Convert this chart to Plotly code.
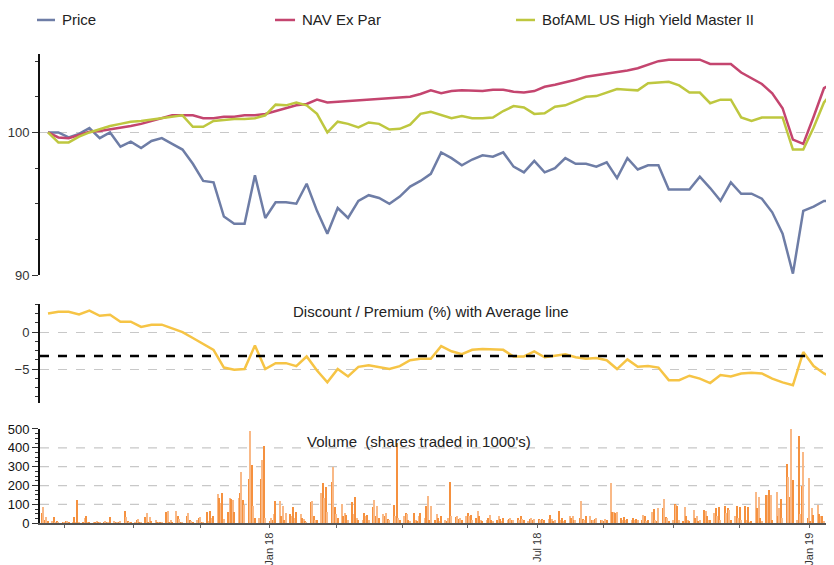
import pandas as pd
import plotly.graph_objects as go

# ---------------- data ----------------
week_dates = list(pd.date_range('2017-08-04', periods=76, freq='7D')) + [pd.Timestamp('2019-01-16')]

price = [100.0, 100.0, 99.65, 99.9, 100.3, 99.6, 100.0, 99.0, 99.35, 98.9,
         99.4, 99.6, 99.2, 98.8, 97.8, 96.6, 96.5, 94.1, 93.6, 93.6,
         97.0, 94.0, 95.1, 95.1, 95.0, 96.4, 94.5, 92.9, 94.7, 94.0,
         95.2, 95.6, 95.4, 95.0, 95.5, 96.2, 96.6, 97.1, 98.6, 98.2,
         97.7, 98.1, 98.4, 98.3, 98.6, 97.6, 97.2, 98.0, 97.2, 97.5,
         98.2, 97.8, 97.8, 97.6, 97.9, 96.8, 98.2, 97.4, 97.7, 97.7,
         96.0, 96.0, 96.0, 96.9, 96.1, 95.2, 96.5, 95.7, 95.7, 95.35,
         94.4, 92.9, 90.1, 94.5, 94.8, 95.2, 95.2]

nav = [100.0, 99.65, 99.6, 99.8, 100.05, 100.1, 100.2, 100.35, 100.45, 100.6,
       100.8, 101.0, 101.2, 101.2, 101.2, 101.0, 101.0, 101.1, 101.1, 101.2,
       101.2, 101.3, 101.5, 101.7, 101.9, 102.0, 102.3, 102.1, 102.15, 102.2,
       102.2, 102.3, 102.35, 102.4, 102.4, 102.5, 102.7, 102.95, 102.75, 102.9,
       102.95, 102.9, 102.9, 103.0, 103.0, 102.85, 102.8, 102.9, 103.2, 103.35,
       103.5, 103.7, 103.9, 104.0, 104.1, 104.25, 104.35, 104.5, 104.75, 105.0,
       105.1, 105.1, 105.1, 105.1, 104.8, 104.8, 104.8, 104.2, 103.8, 103.4,
       102.75, 101.7, 99.5, 99.2, 101.1, 103.1, 103.4]

bench = [100.0, 99.3, 99.3, 99.7, 100.0, 100.25, 100.45, 100.6, 100.75, 100.8,
         100.9, 101.05, 101.1, 101.2, 100.4, 100.4, 100.8, 100.9, 100.95, 100.95,
         101.0, 101.2, 101.95, 101.9, 102.1, 101.9, 101.3, 100.0, 100.75, 100.6,
         100.35, 100.7, 100.6, 100.2, 100.25, 100.55, 101.3, 101.45, 101.2, 101.0,
         101.15, 101.0, 101.0, 101.05, 101.5, 101.85, 101.75, 101.3, 101.35, 101.8,
         101.9, 102.2, 102.5, 102.55, 102.8, 103.05, 103.0, 102.95, 103.45, 103.5,
         103.55, 103.3, 102.8, 102.8, 102.05, 102.3, 102.3, 101.05, 100.8, 101.05,
         101.05, 101.05, 98.8, 98.8, 100.35, 102.1, 102.75]

discount = [2.5, 2.75, 2.75, 2.4, 2.9, 2.2, 2.35, 1.4, 1.4, 0.7,
            1.0, 1.0, 0.5, 0.0, -0.8, -1.6, -2.4, -4.8, -5.1, -5.0,
            -1.8, -5.0, -4.2, -4.2, -4.6, -3.3, -5.2, -6.8, -5.0, -6.0,
            -4.7, -4.5, -4.7, -5.0, -4.6, -3.8, -3.6, -3.6, -1.9, -2.6,
            -3.0, -2.4, -2.3, -2.3, -2.4, -3.3, -3.3, -2.6, -3.4, -3.2,
            -3.0, -3.4, -3.6, -3.5, -3.8, -5.0, -3.7, -4.7, -4.6, -4.8,
            -6.5, -6.5, -5.9, -6.3, -6.9, -5.8, -6.0, -5.6, -5.5, -5.6,
            -6.3, -6.8, -7.2, -2.7, -4.6, -5.6, -6.0]
avg_discount = -3.25

vol_dates = pd.bdate_range('2017-07-31', '2019-01-16')
volume = [
    55, 89, 20, 32, 10,   14, 35, 8, 12, 5,   3, 5, 14, 10, 2,   6, 35, 5, 126, 8,
    3, 27, 41, 5, 3,   4, 2, 14, 3, 6,   8, 14, 4, 3, 35,   14, 3, 4, 5, 10,
    67, 35, 14, 4, 3,   8, 18, 22, 5, 3,   32, 55, 8, 32, 10,   18, 6, 8, 4, 8,
    62, 67, 5, 18, 6,   67, 37, 22, 4, 6,   37, 55, 18, 10, 4,   18, 27, 32, 6, 4,
    62, 14, 65, 30, 41,   156, 133, 108, 163, 22,   62, 133, 130, 125, 60,   133, 160, 271, 125, 97,
    234, 487, 310, 90, 30,   30, 234, 337, 411, 30,   10, 30, 20, 50, 120,   120, 40, 90, 20, 55,
    50, 40, 88, 30, 60,   50, 30, 22, 10, 8,   115, 120, 40, 20, 18,   160, 213, 133, 195, 60,
    217, 298, 88, 50, 30,   100, 40, 55, 45, 20,   115, 50, 140, 30, 20,   20, 55, 40, 45, 15,
    88, 125, 40, 90, 30,   50, 40, 55, 25, 20,   97, 40, 425, 30, 15,   40, 55, 50, 20, 10,
    55, 20, 10, 40, 55,   30, 90, 145, 20, 90,   20, 50, 30, 10, 40,   20, 10, 30, 221, 40,
    35, 40, 25, 30, 20,   40, 55, 40, 45, 20,   30, 65, 40, 20, 10,   15, 30, 45, 20, 10,
    20, 40, 25, 10, 30,   20, 25, 30, 15, 20,   30, 15, 40, 25, 20,   10, 25, 30, 15, 25,
    25, 20, 25, 15, 20,   25, 45, 25, 10, 20,   65, 20, 30, 10, 15,   40, 30, 40, 20, 15,
    30, 120, 25, 15, 40,   40, 20, 15, 25, 30,   20, 15, 10, 25, 15,   213, 60, 60, 55, 60,
    30, 20, 35, 20, 25,   20, 30, 15, 25, 20,   20, 44, 40, 10, 15,   62, 76, 20, 14, 80,
    80, 129, 32, 30, 10,   15, 103, 97, 94, 20,   14, 85, 40, 20, 10,   73, 28, 40, 10, 20,
    73, 65, 40, 15, 20,   55, 80, 40, 85, 20,   94, 55, 80, 70, 20,   40, 94, 30, 85, 20,
    94, 20, 85, 5, 10,   165, 80, 138, 30, 10,   150, 150, 177, 150, 20,   168, 40, 80, 129, 30,
    316, 248, 138, 498, 227,   15, 463, 50, 200, 378,   30, 241, 10, 80, 45,   97, 50, 40, 40, 10,
    62, 71, 30,
]

tick_dates = ['2017-08-15', '2017-10-01', '2017-11-15', '2018-01-01', '2018-02-15', '2018-04-01',
              '2018-05-15', '2018-07-01', '2018-08-15', '2018-10-01', '2018-11-15', '2019-01-01']
tick_text = ['', '', '', 'Jan 18', '', '', '', 'Jul 18', '', '', '', 'Jan 19']
vol_grid = [100, 200, 300, 400]

series_names = ['Price', 'NAV Ex Par', 'BofAML US High Yield Master II']

# ---------------- style ----------------
FONT = "Liberation Sans Narrow, Arial Narrow, Liberation Sans, sans-serif"
X_RANGE = ['2017-07-29 14:00', '2019-01-17 19:00']
C_PRICE, C_NAV, C_BENCH = '#6E7DA6', '#C4456F', '#BEC73F'
C_DISC = '#F6C445'
series_colors = [C_PRICE, C_NAV, C_BENCH]
bar_colors = ['#F5913F' if i % 2 == 0 else '#F9B987' for i in range(len(volume))]

fig = go.Figure()
for name, vals, col in zip(series_names, [price, nav, bench], series_colors):
    fig.add_trace(go.Scatter(x=week_dates, y=vals, name=name, mode='lines', showlegend=False,
                             line=dict(color=col, width=2.5), xaxis='x', yaxis='y'))
fig.add_trace(go.Scatter(x=week_dates, y=discount, mode='lines', showlegend=False,
                         line=dict(color=C_DISC, width=2.5), xaxis='x2', yaxis='y2'))
fig.add_trace(go.Bar(x=vol_dates, y=volume, showlegend=False,
                     marker=dict(color=bar_colors, line=dict(width=0)),
                     width=86400000 * 0.9, xaxis='x3', yaxis='y3'))

# average line
fig.add_shape(type='line', xref='x2 domain', yref='y2', x0=0, x1=1, y0=avg_discount, y1=avg_discount,
              line=dict(color='black', width=2.5, dash='dash'))
# volume gridlines
for g in vol_grid:
    fig.add_shape(type='line', xref='x3 domain', yref='y3', x0=0, x1=1, y0=g, y1=g, layer='below',
                  line=dict(color='#C8C8C8', width=1.2, dash='dash'))

# legend (key lines + labels at the top)
legend_x = [(-0.0038, 0.0189, 0.0252), (0.2960, 0.3212, 0.3275), (0.5995, 0.6234, 0.6297)]
legend_y = 0.9785
annotations = []
for (x0, x1, xt), name, col in zip(legend_x, series_names, series_colors):
    fig.add_shape(type='line', xref='paper', yref='paper', x0=x0, x1=x1, y0=legend_y, y1=legend_y,
                  line=dict(color=col, width=2.5))
    annotations.append(dict(text=name, xref='paper', yref='paper', x=xt, y=legend_y,
                            xanchor='left', yanchor='middle', showarrow=False,
                            font=dict(size=15, color='#222', family=FONT)))

annotations += [
    dict(text='Discount / Premium (%) with Average line', xref='paper', yref='paper',
         x=0.492, y=0.456, xanchor='center', yanchor='middle', showarrow=False,
         font=dict(size=15, color='#222', family=FONT)),
    dict(text="Volume  (shares traded in 1000's)", xref='paper', yref='paper',
         x=0.477, y=0.2226, xanchor='center', yanchor='middle', showarrow=False,
         font=dict(size=15, color='#222', family=FONT)),
]

hidden_x = dict(range=X_RANGE, type='date', showline=False, showticklabels=False, ticks='',
                showgrid=False, zeroline=False, automargin=False)
yax_common = dict(showline=True, linecolor='#111', linewidth=2, ticks='outside', ticklen=6,
                  tickcolor='#333', tickwidth=1, zeroline=False, gridcolor='#C8C8C8', griddash='dash',
                  gridwidth=1.2, automargin=False)

fig.update_layout(
    template='none',
    width=826, height=557,
    margin=dict(l=32, r=0, t=0, b=0, pad=0, autoexpand=False),
    paper_bgcolor='white', plot_bgcolor='white',
    font=dict(family=FONT, size=15, color='#222'),
    showlegend=False,
    bargap=0,
    xaxis=dict(domain=[0, 1], anchor='y', **hidden_x),
    xaxis2=dict(domain=[0, 1], anchor='y2', **hidden_x),
    xaxis3=dict(domain=[0, 1], anchor='y3', range=X_RANGE, type='date', showline=True,
                linecolor='#555', linewidth=2, ticks='outside', ticklen=3, tickcolor='#666',
                tickmode='array', tickvals=tick_dates, ticktext=tick_text, tickangle=-90,
                tickfont=dict(size=11, color='#333', family=FONT), showgrid=False, zeroline=False,
                automargin=False),
    yaxis=dict(domain=[0.5206, 0.9174], range=[90, 105.5], anchor='x', tick0=0, dtick=10,
               showgrid=True,
               minor=dict(tick0=0, dtick=2.5, ticks='outside', ticklen=3, tickcolor='#333', showgrid=False),
               tickfont=dict(size=13, color='#333', family=FONT), **yax_common),
    yaxis2=dict(domain=[0.2914, 0.4686], range=[-9.55, 3.8], anchor='x2', tick0=0, dtick=5,
                showgrid=True,
                minor=dict(tick0=0, dtick=1.25, ticks='outside', ticklen=3, tickcolor='#333', showgrid=False),
                tickfont=dict(size=13, color='#333', family=FONT), **yax_common),
    yaxis3=dict(domain=[0.0749, 0.2442], range=[0, 500], anchor='x3', tick0=0, dtick=100,
                showgrid=False,
                minor=dict(tick0=0, dtick=25, ticks='outside', ticklen=3, tickcolor='#333', showgrid=False),
                tickfont=dict(size=13, color='#111', family=FONT), **yax_common),
    annotations=annotations,
)

fig.write_html('out.html')
